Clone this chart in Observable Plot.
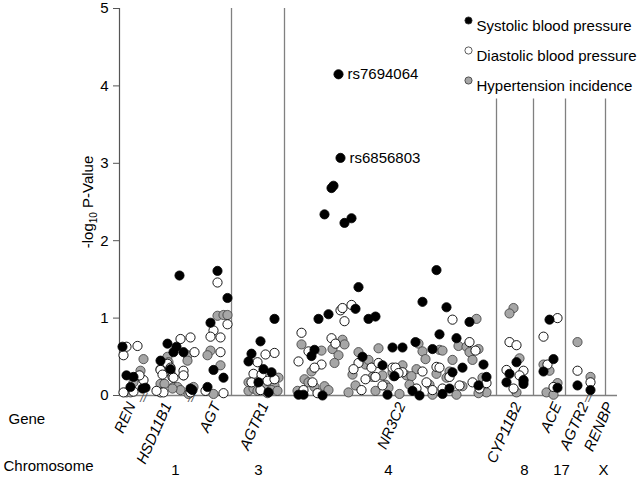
<!DOCTYPE html>
<html><head><meta charset="utf-8">
<script src="https://cdn.jsdelivr.net/npm/d3@7"></script>
<script src="https://cdn.jsdelivr.net/npm/@observablehq/plot@0.6"></script>
<style>body{margin:0;background:#fff;}</style>
</head><body><div id="chart"></div>
<script>
// [position along genome panel, -log10 P]
const systolic = [
[3,0.63],[7,0.26],[14,0.24],[11,0.11],[23,0.09],[26,0.10],
[60,1.55],[48,0.67],[41,0.45],[57,0.63],[54,0.56],[64,0.56],[51,0.34],[71,0.09],[73,0.07],
[98,1.61],[108,1.26],[91,0.94],[94,0.33],[104,0.23],[88,0.11],
[155,0.99],[141,0.70],[132,0.54],[129,0.44],[144,0.34],[152,0.30],[139,0.17],[149,0.04],
[214,2.71],[212,2.68],[205,2.34],[225,2.23],[232,2.29],[239,1.40],[199,0.99],[209,1.05],[236,1.12],[249,0.99],[256,1.02],[195,0.59],[192,0.51],[243,0.50],[263,0.39],[179,0.01],[184,0.01],[203,0.0],[268,0.01],[273,0.62],
[317,1.62],[303,1.21],[327,1.14],[350,0.95],[320,0.79],[337,0.74],[283,0.62],[296,0.69],[313,0.60],[343,0.36],[364,0.40],[275,0.25],[333,0.30],[293,0.06],[300,0.0],[323,0.02],[330,0.09],[359,0.13],[367,0.24],
[397,0.43],[390,0.28],[404,0.20],[404,0.15],[387,0.17],
[430,0.98],[434,0.47],[424,0.31],[438,0.10],
[458,0.13],
[471,0.07]
];
const labeledSnps = [[219,4.15,"rs7694064"],[221,3.07,"rs6856803"]];
const diastolic = [
[7,0.63],[18,0.64],[4,0.52],[24,0.20],[20,0.26],[14,0.05],[4,0.04],
[61,0.73],[71,0.75],[41,0.33],[43,0.27],[53,0.24],[64,0.32],[64,0.26],[75,0.56],[41,0.04],[44,0.04],[37,0.06],[48,0.41],[51,0.36],[54,0.23],[71,0.04],
[98,1.46],[108,0.92],[94,0.84],[91,0.76],[101,0.75],[101,0.56],[86,0.06],[104,0.03],
[155,0.55],[146,0.53],[138,0.43],[134,0.28],[132,0.17],[142,0.27],[148,0.19],[155,0.21],[141,0.07],
[221,1.10],[223,1.13],[232,1.17],[225,0.96],[182,0.81],[212,0.74],[216,0.67],[189,0.57],[179,0.44],[202,0.40],[195,0.36],[239,0.42],[252,0.36],[259,0.42],[234,0.34],[246,0.21],[256,0.24],[263,0.13],[193,0.17],[242,0.07],[273,0.36],[184,0.07],[198,0.03],
[333,0.98],[350,0.69],[356,0.58],[276,0.36],[283,0.30],[279,0.29],[303,0.31],[317,0.37],[320,0.36],[330,0.24],[307,0.17],[297,0.09],[313,0.07],[323,0.09],[340,0.13],[353,0.17],[360,0.09],[367,0.16],
[390,0.69],[397,0.65],[387,0.33],[404,0.32],[400,0.26],[394,0.09],
[438,1.00],[424,0.76],[428,0.40],[434,0.11],
[458,0.32],
[471,0.17]
];
const hypertension = [
[24,0.47],[21,0.32],[17,0.24],[14,0.17],[7,0.04],[11,0.04],
[48,0.50],[49,0.43],[68,0.52],[68,0.45],[51,0.30],[41,0.34],[64,0.26],[41,0.15],[45,0.15],[54,0.11],[58,0.11],[61,0.07],[53,0.09],[74,0.11],[69,0.02],
[98,1.03],[104,1.04],[108,1.04],[91,0.58],[88,0.52],[101,0.39],[94,0.02],
[129,0.17],[159,0.23],[155,0.13],[129,0.06],[134,0.09],[144,0.12],[152,0.07],[158,0.06],[138,0.06],[148,0.03],
[182,0.66],[223,0.72],[225,0.66],[213,0.60],[202,0.58],[219,0.52],[215,0.42],[192,0.31],[239,0.56],[259,0.61],[243,0.43],[246,0.40],[249,0.46],[233,0.27],[253,0.24],[263,0.26],[185,0.21],[189,0.17],[236,0.13],[256,0.06],[266,0.14],[269,0.10],[274,0.25],[178,0.06],[195,0.11],[205,0.12],[209,0.07],[229,0.04],
[357,0.99],[299,0.67],[320,0.59],[323,0.58],[303,0.57],[339,0.64],[347,0.63],[359,0.60],[350,0.56],[306,0.47],[353,0.46],[333,0.46],[283,0.39],[273,0.30],[287,0.26],[297,0.34],[317,0.28],[330,0.31],[327,0.23],[292,0.25],[290,0.14],[310,0.14],[280,0.02],[313,0.01],[337,0.01],[343,0.12],[363,0.23],[367,0.04],[359,0.03],
[394,1.13],[390,1.06],[400,0.48],[397,0.04],[404,0.19],
[424,0.40],[430,0.32],[438,0.16],[427,0.04],[434,0.01],
[458,0.69],
[471,0.24]
];
const chromosomeBordersFull = [112, 165];
const chromosomeBordersShort = [377, 414, 446, 486];
const axisBreaks = [24, 72, 469];
const genes = ["REN","HSD11B1","AGT","AGTR1","NR3C2","CYP11B2","ACE","AGTR2","RENBP"];
const genePos = [12, 48, 97, 145, 282, 398, 438, 465, 490];
const chromosomes = ["1","3","4","8","17","X"];
const chromosomePos = [56, 139, 269, 405, 442, 484];
const legendLabels = ["Systolic blood pressure","Diastolic blood pressure","Hypertension incidence"];
const yTicks = [0,1,2,3,4,5];

const F = "'Liberation Sans', Arial, Helvetica, sans-serif";
const R = 4.6;
const legendFill = ["#000","#fff","#a6a6a6"];

const legendMarks = legendLabels.flatMap((label, i) => [
  Plot.dot([label], {frameAnchor: "top-right", dx: -149, dy: 12 + i * 30, r: 3.6, fill: legendFill[i], stroke: "#333", strokeWidth: 0.8}),
  Plot.text([label], {frameAnchor: "top-right", dx: -141, dy: 12 + i * 30, text: d => d, textAnchor: "start", fontSize: 15})
]);

const plot = Plot.plot({
  width: 640, height: 480,
  marginLeft: 119, marginRight: 23, marginTop: 8, marginBottom: 85,
  x: {domain: [0, 498], axis: null},
  y: {domain: [0, 5], axis: null},
  style: {fontFamily: F, fontSize: "15px", color: "#000", background: "#fff", overflow: "visible"},
  marks: [
    Plot.axisY({ticks: yTicks, tickFormat: d => String(d), tickSize: 6, tickPadding: 5, label: null, fontSize: 15, stroke: "#555", fill: "#000"}),
    Plot.ruleX([0], {stroke: "#555", strokeWidth: 1.2}),
    Plot.ruleX(chromosomeBordersFull, {y1: 0, y2: 5, stroke: "#808080", strokeWidth: 1.3}),
    Plot.ruleX(chromosomeBordersShort, {y1: 0, y2: 3.83, stroke: "#808080", strokeWidth: 1.3}),
    Plot.ruleY([0], {stroke: "#808080", strokeWidth: 1.5}),
    Plot.text(axisBreaks, {x: d => d, y: -0.04, text: () => "//", fontSize: 12, fill: "#555", fontStyle: "italic"}),
    Plot.dot(hypertension, {x: d => d[0], y: d => d[1], r: R, fill: "#a6a6a6", stroke: "#3a3a3a", strokeWidth: 0.8}),
    Plot.dot(diastolic, {x: d => d[0], y: d => d[1], r: R, fill: "#fff", stroke: "#000", strokeWidth: 0.9}),
    Plot.dot(systolic, {x: d => d[0], y: d => d[1], r: R, fill: "#000", stroke: "#000", strokeWidth: 0.8}),
    Plot.dot(labeledSnps, {x: d => d[0], y: d => d[1], r: R, fill: "#000", stroke: "#000", strokeWidth: 0.8}),
    Plot.text(labeledSnps, {x: d => d[0], y: d => d[1], text: d => d[2], dx: 9, textAnchor: "start", fontSize: 15}),
    Plot.text(["-log10 P-Value"], {frameAnchor: "left", dx: -31, rotate: -90, textAnchor: "middle", fontSize: 15}),
    Plot.text(genes, {x: (d, i) => genePos[i], y: -0.1, text: d => d, rotate: -66, textAnchor: "end", fontStyle: "italic", fontSize: 15}),
    Plot.text(chromosomes, {x: (d, i) => chromosomePos[i], y: -0.97, text: d => d, fontSize: 15}),
    Plot.text(["Gene"], {frameAnchor: "bottom-left", dx: -111, dy: 28, textAnchor: "start", fontSize: 15}),
    Plot.text(["Chromosome"], {frameAnchor: "bottom-left", dx: -116, dy: 75, textAnchor: "start", fontSize: 15}),
    ...legendMarks
  ]
});

document.getElementById("chart").appendChild(plot);

// subscript in y label
d3.select(plot).selectAll("text").filter(function(){ return this.textContent === "-log10 P-Value"; }).each(function(){
  const t = d3.select(this);
  t.text(null);
  t.append("tspan").text("-log");
  t.append("tspan").attr("font-size", "10px").attr("dy", "4").text("10");
  t.append("tspan").attr("dy", "-4").text(" P-Value");
});
</script>
</body></html>
